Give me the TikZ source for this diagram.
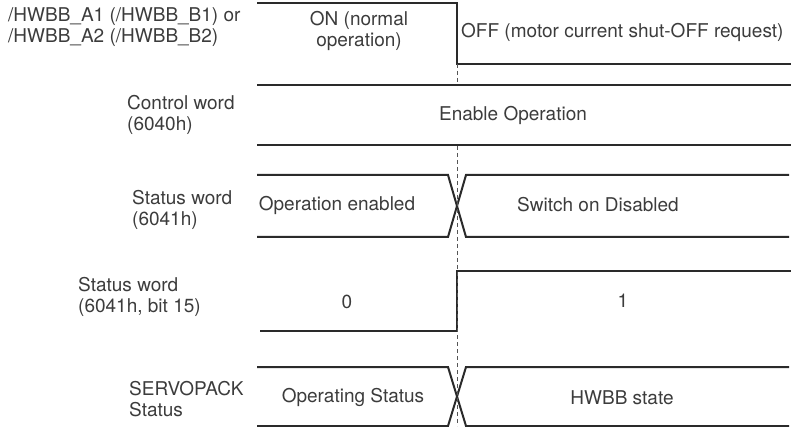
\documentclass[tikz,border=0pt]{standalone}
\usepackage{fontspec}
\setmainfont{TeX Gyre Heros}
\definecolor{ink}{HTML}{2A2A2A}
\definecolor{txt}{HTML}{3C3C3C}
\begin{document}
\begin{tikzpicture}[x=1pt,y=-1pt,
	sig/.style={line width=2pt,color=ink,line join=miter},
	lbl/.style={font=\fontsize{19}{20.5}\selectfont,text=txt,inner sep=0pt},
	cutline/.style={draw=ink!80,line width=0.8pt,dash pattern=on 4pt off 3pt}]
	\useasboundingbox (0,0) rectangle (791,427);
	
	%HWBB input signal
	\draw[sig] (257,3)--(457,3)--(457,64)--(791,64);
	
	%Control word
	\foreach \y in {85,145}
	\draw[sig] (257,\y)--(791,\y);
	
	%Status word and SERVOPACK status, crossing at the cut
	\foreach \t/\b in {175/237,367/426} {
	\draw[sig] (257,\t)--(448,\t)--(466,\b)--(789,\b);
	\draw[sig] (257,\b)--(448,\b)--(466,\t)--(789,\t);
	}
	
	%Bit 15
	\draw[sig] (260,331)--(457,331)--(457,271)--(791,271);
	
	%Cut line, broken over the control word
	\draw[cutline] (457,64)--(457,84);
	\draw[cutline] (457,146)--(457,426);
	
	%Signal names
	\node[lbl,anchor=west,align=left] (hwbb) at (8,27) {/HWBB\_A1 (/HWBB\_B1) or\\/HWBB\_A2 (/HWBB\_B2)};
	\node[lbl,anchor=west,align=left] (ctrl) at (127,115) {Control word\\(6040h)};
	\node[lbl,anchor=west,align=left] (stat) at (132,210) {Status word\\(6041h)};
	\node[lbl,anchor=west,align=left] (bit) at (78,297) {Status word\\(6041h, bit 15)};
	\node[lbl,anchor=west,align=left] (svpk) at (129,399) {SERVOPACK\\Status};
	
	%Values
	\node[lbl,align=center] (on) at (359,31) {ON (normal\\operation)};
	\node[lbl,anchor=west] (off) at (461,32) {OFF (motor current shut-OFF request)};
	\node[lbl] (enop) at (513,115) {Enable Operation};
	\node[lbl] (open) at (337,205) {Operation enabled};
	\node[lbl] (sod) at (598,205) {Switch on Disabled};
	\node[lbl] (zero) at (347,302) {0};
	\node[lbl] (one) at (623,301) {1};
	\node[lbl] (opst) at (353,397) {Operating Status};
	\node[lbl] (hwst) at (622,398) {HWBB state};
	
\end{tikzpicture}
\end{document}
